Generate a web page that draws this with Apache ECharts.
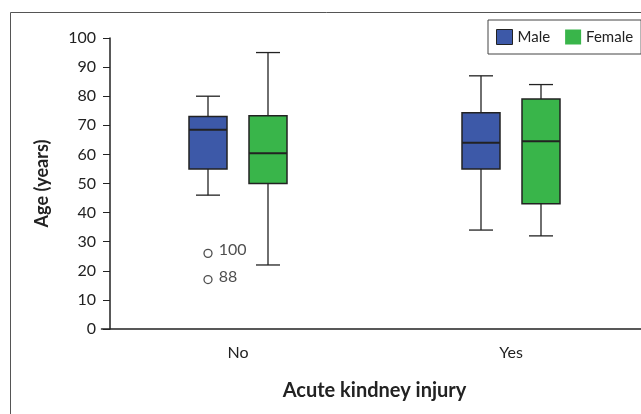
<!DOCTYPE html>
<html>
<head>
<meta charset="utf-8">
<script src="https://cdn.jsdelivr.net/npm/echarts@6/dist/echarts.min.js"></script>
<style>
  html, body { margin: 0; padding: 0; background: #fff; }
  #chart { width: 641px; height: 414px; }
</style>
</head>
<body>
<div id="chart"></div>
<script>
// categories on x
var categories = ['No', 'Yes'];
// box stats: [min, Q1, median, Q3, max]
var maleStats = [[46, 55, 68.5, 73, 80], [34, 55, 64, 74.3, 87]];
var femaleStats = [[22, 50, 60.4, 73.3, 95], [32, 43, 64.5, 79, 84]];
// outliers (male, No)
var outlierCats = ['No', 'No'];
var outlierValues = [26, 17];
var outlierLabels = ['100', '88'];
var yTicks = [0, 100, 10]; // min, max, interval

var chart = echarts.init(document.getElementById('chart'));
var font = 'Lato';
var ink = '#222';

// draws one box with whiskers, shifted sideways by shift px
function boxRenderer(shift, color) {
    return function (params, api) {
        var x = api.value(0);
        var pMin = api.coord([x, api.value(1)]);
        var pQ1 = api.coord([x, api.value(2)]);
        var pMed = api.coord([x, api.value(3)]);
        var pQ3 = api.coord([x, api.value(4)]);
        var pMax = api.coord([x, api.value(5)]);
        var cx = pMin[0] + shift;
        var half = 19, cap = 12;
        var line = { stroke: ink, lineWidth: 1.3 };
        return {
            type: 'group',
            children: [
                { type: 'line', shape: { x1: cx, y1: pQ3[1], x2: cx, y2: pMax[1] }, style: line },
                { type: 'line', shape: { x1: cx - cap, y1: pMax[1], x2: cx + cap, y2: pMax[1] }, style: line },
                { type: 'line', shape: { x1: cx, y1: pQ1[1], x2: cx, y2: pMin[1] }, style: line },
                { type: 'line', shape: { x1: cx - cap, y1: pMin[1], x2: cx + cap, y2: pMin[1] }, style: line },
                { type: 'rect', shape: { x: cx - half, y: pQ3[1], width: half * 2, height: pQ1[1] - pQ3[1] },
                  style: { fill: color, stroke: ink, lineWidth: 1.5 } },
                { type: 'line', shape: { x1: cx - half, y1: pMed[1], x2: cx + half, y2: pMed[1] },
                  style: { stroke: ink, lineWidth: 2 } }
            ]
        };
    };
}

function toRows(stats) {
    return stats.map(function (s, i) { return [i].concat(s); });
}

chart.setOption({
    animation: false,
    graphic: [{
        type: 'rect',
        shape: { x: 10.5, y: 12.5, width: 700, height: 500 },
        style: { fill: 'none', stroke: '#555', lineWidth: 1 },
        silent: true
    }],
    legend: {
        left: 488, top: 20,
        padding: [9, 8],
        itemWidth: 16, itemHeight: 15, itemGap: 15,
        borderColor: '#444', borderWidth: 1,
        textStyle: { fontFamily: font, fontSize: 15, color: ink },
        data: [
            { name: 'Male', icon: 'rect', itemStyle: { color: '#3D59A8', borderColor: ink, borderWidth: 1 } },
            { name: 'Female', icon: 'rect', itemStyle: { color: '#39B54A', borderWidth: 0 } }
        ]
    },
    grid: { left: 101.5, top: 38, width: 546, height: 291, outerBoundsMode: 'none' },
    xAxis: {
        type: 'category',
        data: categories,
        name: 'Acute kindney injury',
        nameLocation: 'middle',
        nameGap: 52,
        nameTextStyle: { fontFamily: font, fontSize: 20, fontWeight: 'bold', color: ink },
        axisLine: { lineStyle: { color: ink, width: 1.5 } },
        axisTick: { alignWithLabel: true, length: 7, lineStyle: { color: ink } },
        axisLabel: { fontFamily: font, fontSize: 16, color: ink, margin: 16 },
        splitLine: { show: false }
    },
    yAxis: {
        type: 'value',
        min: yTicks[0], max: yTicks[1], interval: yTicks[2],
        offset: -8.5,
        name: 'Age (years)',
        nameLocation: 'middle',
        nameGap: 59,
        nameTextStyle: { fontFamily: font, fontSize: 18, fontWeight: 'bold', color: ink },
        axisLine: { show: true, lineStyle: { color: ink, width: 1.5 } },
        axisTick: { show: true, length: 7, lineStyle: { color: ink } },
        axisLabel: { fontFamily: font, fontSize: 16, color: ink, margin: 14 },
        splitLine: { show: false }
    },
    series: [
        {
            name: 'Male', type: 'custom',
            itemStyle: { color: '#3D59A8' },
            renderItem: boxRenderer(-30, '#3D59A8'),
            encode: { x: 0, y: [1, 2, 3, 4, 5] },
            data: toRows(maleStats)
        },
        {
            name: 'Female', type: 'custom',
            itemStyle: { color: '#39B54A' },
            renderItem: boxRenderer(30, '#39B54A'),
            encode: { x: 0, y: [1, 2, 3, 4, 5] },
            data: toRows(femaleStats)
        },
        {
            name: 'outliers', type: 'scatter',
            symbol: 'circle', symbolSize: 8,
            symbolOffset: [-30, 0],
            itemStyle: { color: '#fff', borderColor: ink, borderWidth: 1.3 },
            label: {
                show: true, position: 'right', distance: 6, offset: [0, -3],
                fontFamily: font, fontSize: 16, color: ink,
                formatter: function (p) { return outlierLabels[p.dataIndex]; }
            },
            data: outlierCats.map(function (c, i) { return [c, outlierValues[i]]; })
        }
    ]
});
</script>
</body>
</html>
